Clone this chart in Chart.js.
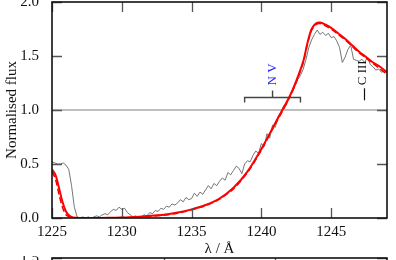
<!DOCTYPE html>
<html>
<head>
<meta charset="utf-8">
<script src="https://cdn.jsdelivr.net/npm/chart.js@4/dist/chart.umd.min.js"></script>
<style>
  html, body { margin: 0; padding: 0; background: #fff; overflow: hidden; }
  #wrap { position: relative; width: 396px; height: 260px; overflow: hidden; }
  #main { position: absolute; left: 0; top: 0; }
  #next { position: absolute; left: 0; top: 256px; }
</style>
</head>
<body>
<div id="wrap">
  <canvas id="main" width="396" height="260"></canvas>
  <canvas id="next" width="396" height="100"></canvas>
</div>
<script>
// observed spectrum (wavelength / normalised flux)
const obsWave = [1225.0,1225.2,1225.4,1225.6,1225.8,1226.0,1226.2,1226.4,1226.6,1226.8,
  1227.0,1227.2,1227.4,1227.6,1227.8,1228.0,1228.2,1228.4,1228.6,1228.8,
  1229.0,1229.2,1229.4,1229.6,1229.8,1230.0,1230.2,1230.4,1230.6,1230.8,
  1231.0,1231.2,1231.4,1231.6,1231.8,1232.0,1232.2,1232.4,1232.6,1232.8,
  1233.0,1233.2,1233.4,1233.6,1233.8,1234.0,1234.2,1234.4,1234.6,1234.8,
  1235.0,1235.2,1235.4,1235.6,1235.8,1236.0,1236.2,1236.4,1236.6,1236.8,
  1237.0,1237.2,1237.4,1237.6,1237.8,1238.0,1238.2,1238.4,1238.6,1238.8,
  1239.0,1239.2,1239.4,1239.6,1239.8,1240.0,1240.2,1240.4,1240.6,1240.8,
  1241.0,1241.2,1241.4,1241.6,1241.8,1242.0,1242.2,1242.4,1242.6,1242.8,
  1243.0,1243.2,1243.4,1243.6,1243.8,1244.0,1244.2,1244.4,1244.6,1244.8,
  1245.0,1245.2,1245.4,1245.6,1245.8,1246.0,1246.2,1246.4,1246.6,1246.8,
  1247.0,1247.2,1247.4,1247.6,1247.8,1248.0,1248.2,1248.4,1248.6,1248.8,1249.0];
const obsFlux = [0.52,0.51,0.50,0.50,0.51,0.49,0.45,0.30,0.10,0.01,
  0.00,0.01,0.00,0.01,0.00,0.01,0.02,0.01,0.03,0.04,
  0.03,0.06,0.08,0.07,0.10,0.08,0.09,0.05,0.03,0.01,
  0.02,0.00,0.01,0.03,0.02,0.05,0.04,0.07,0.06,0.09,
  0.08,0.11,0.10,0.13,0.12,0.14,0.17,0.15,0.19,0.17,
  0.18,0.23,0.20,0.24,0.22,0.26,0.30,0.27,0.32,0.30,
  0.34,0.37,0.35,0.42,0.40,0.44,0.48,0.46,0.41,0.50,
  0.53,0.52,0.58,0.62,0.60,0.69,0.66,0.78,0.74,0.86,
  0.84,0.94,0.98,1.04,1.05,1.12,1.16,1.22,1.28,1.32,
  1.38,1.47,1.58,1.65,1.70,1.74,1.70,1.72,1.69,1.71,
  1.67,1.68,1.64,1.58,1.44,1.49,1.56,1.60,1.47,1.46,
  1.45,1.47,1.44,1.49,1.42,1.40,1.37,1.38,1.35,1.36,1.34];

// model 1 (solid red)
const modelWave = [1225.0,1225.25,1225.5,1225.75,1226.0,1226.25,1226.5,1227,1228,1229,1230,1231,1232,1233,1234,
  1235,1236,1237,1238,1239,1240,1241,1242,1242.5,1243,1243.3,1243.6,1243.9,1244.2,1244.6,
  1245,1245.5,1246,1246.5,1247,1247.5,1248,1248.5,1249];
const modelFlux = [0.45,0.40,0.28,0.15,0.06,0.02,0.005,0,0,0.002,0.005,0.01,0.02,0.03,0.05,
  0.08,0.12,0.18,0.28,0.43,0.64,0.88,1.12,1.27,1.45,1.62,1.75,1.80,1.81,1.79,
  1.76,1.71,1.66,1.60,1.54,1.49,1.44,1.40,1.35];
// model 2 (dashed red)
const model2Flux = [0.43,0.36,0.22,0.10,0.03,0.01,0,0,0,0.002,0.004,0.008,0.015,0.025,0.045,
  0.075,0.115,0.175,0.27,0.42,0.63,0.87,1.11,1.26,1.44,1.61,1.74,1.79,1.80,1.78,
  1.75,1.70,1.65,1.59,1.53,1.48,1.43,1.38,1.33];

const unity = 1.0;
const xTicks = [1225, 1230, 1235, 1240, 1245];
const yTicks = [0.0, 0.5, 1.0, 1.5, 2.0];

// line identifications
const nvStart = 1238.8, nvEnd = 1242.8, nvMid = 1240.8, nvLevel = 1.12;
const c3Pos = 1247.35, c3Level = 1.09;

const SERIF = '"Liberation Serif", "DejaVu Serif", serif';
const pts = (xs, ys) => xs.map((x, i) => ({ x, y: ys[i] }));

// inward ticks on all four sides + frame
const frame = {
  id: 'frame',
  afterDraw(chart, args, opts) {
    const { ctx, chartArea: a, scales } = chart;
    const L = 10;
    ctx.save();
    ctx.strokeStyle = '#555'; ctx.lineWidth = 1.3;
    ctx.beginPath();
    scales.x.ticks.forEach(t => {
      const px = Math.round(scales.x.getPixelForValue(t.value)) + 0.5;
      ctx.moveTo(px, a.bottom); ctx.lineTo(px, a.bottom - L);
      ctx.moveTo(px, a.top); ctx.lineTo(px, a.top + L);
    });
    scales.y.ticks.forEach(t => {
      const py = Math.round(scales.y.getPixelForValue(t.value)) + 0.5;
      ctx.moveTo(a.left, py); ctx.lineTo(a.left + L, py);
      ctx.moveTo(a.right, py); ctx.lineTo(a.right - L, py);
    });
    ctx.stroke();
    ctx.strokeStyle = '#111'; ctx.lineWidth = 1.6;
    ctx.strokeRect(a.left, a.top, a.right - a.left, a.bottom - a.top);
    if (opts.titles) {
      ctx.fillStyle = '#111';
      ctx.font = '15px ' + SERIF;
      ctx.textAlign = 'center'; ctx.textBaseline = 'middle';
      ctx.fillText('λ / Å', (a.left + a.right) / 2, 249);
      ctx.save();
      ctx.translate(12, (a.top + a.bottom) / 2);
      ctx.rotate(-Math.PI / 2);
      ctx.fillText('Normalised flux', 0, 0);
      ctx.restore();
    }
    ctx.restore();
  }
};

// N V bracket and C III marker
const labels = {
  id: 'labels',
  afterDatasetsDraw(chart) {
    const { ctx, scales: { x, y } } = chart;
    ctx.save();
    const x0 = x.getPixelForValue(nvStart), x1 = x.getPixelForValue(nvEnd);
    const xm = x.getPixelForValue(nvMid), yb = Math.round(y.getPixelForValue(nvLevel)) + 0.5;
    ctx.strokeStyle = '#444'; ctx.lineWidth = 1.4;
    ctx.beginPath();
    ctx.moveTo(x0, yb + 5); ctx.lineTo(x0, yb); ctx.lineTo(x1, yb); ctx.lineTo(x1, yb + 5);
    ctx.moveTo(xm, yb); ctx.lineTo(xm, yb - 7);
    ctx.stroke();
    ctx.font = '13px ' + SERIF;
    ctx.textAlign = 'left'; ctx.textBaseline = 'middle';
    ctx.fillStyle = '#2a2aff';
    ctx.save();
    ctx.translate(xm, yb - 12);
    ctx.rotate(-Math.PI / 2);
    ctx.fillText('N V', 0, 0);
    ctx.restore();

    const xc = x.getPixelForValue(c3Pos), yc = y.getPixelForValue(c3Level);
    ctx.strokeStyle = '#111'; ctx.lineWidth = 1.2;
    ctx.beginPath();
    ctx.moveTo(Math.round(xc) + 0.5, yc); ctx.lineTo(Math.round(xc) + 0.5, yc - 12);
    ctx.stroke();
    ctx.fillStyle = '#111';
    ctx.save();
    ctx.translate(xc - 1, yc - 15);
    ctx.rotate(-Math.PI / 2);
    ctx.fillText('C III', 0, 0);
    ctx.restore();
    ctx.restore();
  }
};

const tickFont = { family: SERIF, size: 15 };
const noPad = s => { s.paddingTop = 0; s.paddingBottom = 0; s.paddingLeft = 0; s.paddingRight = 0; };

new Chart(document.getElementById('main'), {
  type: 'line',
  data: {
    datasets: [
      { data: pts(modelWave, modelFlux), borderColor: '#ff0000', borderWidth: 2, pointRadius: 0, tension: 0.3, order: 0 },
      { data: pts(modelWave, model2Flux), borderColor: '#ee0000', borderWidth: 1.5, borderDash: [6, 3], pointRadius: 0, tension: 0.3, order: 1 },
      { data: pts(obsWave, obsFlux), borderColor: '#666', borderWidth: 0.9, pointRadius: 0, tension: 0, order: 2 },
      { data: [{ x: 1225, y: unity }, { x: 1249, y: unity }], borderColor: '#aaa', borderWidth: 1.5, pointRadius: 0, order: 3 },
    ]
  },
  options: {
    responsive: false, animation: false, devicePixelRatio: 1,
    layout: { padding: { top: 2, right: 9, left: 0, bottom: 0 } },
    plugins: { legend: { display: false }, tooltip: { enabled: false }, frame: { titles: true } },
    scales: {
      x: {
        type: 'linear', min: 1225, max: 1249,
        afterFit: s => { s.height = 42; noPad(s); },
        afterBuildTicks: s => { s.ticks = xTicks.map(v => ({ value: v })); },
        grid: { display: false, drawTicks: false }, border: { display: false },
        ticks: { font: tickFont, color: '#111', padding: 5, maxRotation: 0, callback: v => String(v) }
      },
      y: {
        type: 'linear', min: 0, max: 2,
        afterFit: s => { s.width = 52; noPad(s); },
        afterBuildTicks: s => { s.ticks = yTicks.map(v => ({ value: v })); },
        grid: { display: false, drawTicks: false }, border: { display: false },
        ticks: { font: tickFont, color: '#111', padding: 13, callback: v => v.toFixed(1) }
      }
    }
  },
  plugins: [frame, labels]
});

// top edge of the next panel, peeking in at the bottom
const nextTicks = [1550, 1555];
const nextYTicks = [0.0, 0.5, 1.0, 1.5];
new Chart(document.getElementById('next'), {
  type: 'line',
  data: { datasets: [{ data: [], pointRadius: 0 }] },
  options: {
    responsive: false, animation: false, devicePixelRatio: 1,
    layout: { padding: { top: 2, right: 9, left: 0, bottom: 0 } },
    plugins: { legend: { display: false }, tooltip: { enabled: false }, frame: { titles: false } },
    scales: {
      x: {
        type: 'linear', min: 1545, max: 1560,
        afterFit: s => { s.height = 30; noPad(s); },
        afterBuildTicks: s => { s.ticks = nextTicks.map(v => ({ value: v })); },
        grid: { display: false, drawTicks: false }, border: { display: false },
        ticks: { display: false }
      },
      y: {
        type: 'linear', min: 0, max: 1.5,
        afterFit: s => { s.width = 52; noPad(s); },
        afterBuildTicks: s => { s.ticks = nextYTicks.map(v => ({ value: v })); },
        grid: { display: false, drawTicks: false }, border: { display: false },
        ticks: { font: tickFont, color: '#111', padding: 13, callback: v => v.toFixed(1) }
      }
    }
  },
  plugins: [frame]
});
</script>
</body>
</html>
